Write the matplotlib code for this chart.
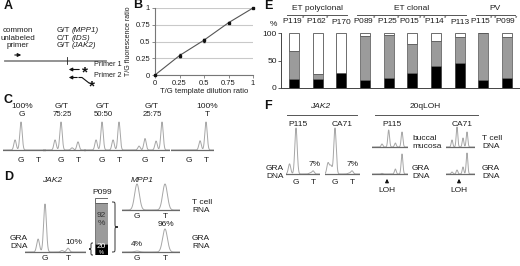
import numpy as np
import matplotlib
matplotlib.use('Agg')
import matplotlib.pyplot as plt
from matplotlib.path import Path
import matplotlib.patches as mpatches

plt.rcParams['font.family'] = ['Liberation Sans', 'DejaVu Sans']
plt.rcParams['mathtext.fontset'] = 'custom'
plt.rcParams['mathtext.rm'] = 'Liberation Sans'

# ---------------- data ----------------
# B: calibration curve
b_template = [0, 0.25, 0.5, 0.75, 1.0]
b_ratio = [0, 0.29, 0.52, 0.78, 1.0]
b_err = [0, 0.02, 0.02, 0.01, 0]
b_ticks = [0, 0.25, 0.5, 0.75, 1]
b_ticklabels = ['0', '0.25', '0.5', '0.75', '1']

# C: dilution chromatograms (relative peak heights)
c_top = ['100%', 'G/T', 'G/T', 'G/T', '100%']
c_sub = ['G', '75:25', '50:50', '25:75', 'T']
c_G = [1.0, 1.0, 1.0, 0.41, 0.0]
c_G_sh = [0.36, 0.36, 0.36, 0.14, 0.0]
c_T = [0.0, 0.29, 1.0, 1.0, 1.0]
c_T_sh = [0.0, 0.08, 0.36, 0.32, 0.33]

# D
d_jak2_heights = [0.27, 1.0, 0.03, 0.08]      # G shoulder, G, T shoulder, T
d_mpp1_tcell = [1.0, 1.0]                      # G, T
d_mpp1_gra = [0.04, 0.96]                      # G, T
d_bar_black = 20
d_bar_gray_top = 92

# E
e_samples = ['P119*', 'P162*', 'P170', 'P089*', 'P125*', 'P015**',
             'P114*', 'P113', 'P115**', 'P099*']
e_black = [17, 17, 28, 14, 18, 28, 40, 46, 14, 18]
e_gray_top = [67, 26, 28, 95, 97, 80, 86, 93, 100, 92]
e_groups = ['ET polyclonal', 'ET clonal', 'PV']

# F
f_jak2_p115 = [0.22, 0.0, 1.0, 0.02, 0.07]      # shoulders, G, T shoulder, T
f_jak2_ca71 = [0.24, 0.18, 1.0, 0.02, 0.07]
f_loh_pos = [0, 1, 2, 3]
f_p115_buccal = [0.15, 0.85, 0.2, 0.75]
f_p115_gra = [0.03, 0.0, 0.25, 1.0]
f_ca71_pos = [0, 1, 2.2, 3]
f_ca71_tcell = [0.35, 1.0, 0.45, 0.75]
f_ca71_gra = [0.1, 0.2, 0.35, 1.05]

# ---------------- figure ----------------
W, H = 520, 266
fig = plt.figure(figsize=(5.2, 2.66), dpi=100)
canvas = fig.add_axes([0, 0, 1, 1])
canvas.set_xlim(0, W)
canvas.set_ylim(H, 0)
canvas.axis('off')

TXT = '#1e1e1e'
PEAK = '#a6a6a6'
BASE = '#6a6a6a'


def px_axes(x0, y0, x1, y1):
    ax = fig.add_axes([x0 / W, 1 - y1 / H, (x1 - x0) / W, (y1 - y0) / H])
    ax.patch.set_alpha(0)
    return ax


def txt(x, y, s, size=6, ha='center', va='center', **kw):
    canvas.text(x, y, s, fontsize=size, color=TXT, ha=ha, va=va, **kw)


def chrom(x0, x1, base, xlim, pos, hts, sigma, peak_px, top_px=52):
    ax = px_axes(x0, base - top_px, x1, base + 2)
    xs = np.linspace(xlim[0], xlim[1], 800)
    ys = np.zeros_like(xs)
    for p, h in zip(pos, hts):
        ys += h * np.exp(-0.5 * ((xs - p) / sigma) ** 2)
    ax.plot(xs, ys, color=PEAK, lw=0.7)
    ax.plot(xlim, [0, 0], color=BASE, lw=0.9)
    ax.set_xlim(xlim)
    ax.set_ylim(-2.0 / peak_px, top_px / peak_px)
    ax.axis('off')
    return ax


def brace(x, y0, y1, w, direction=1):
    ym = (y0 + y1) / 2
    d = min(4, (y1 - y0) / 4)
    xm = x + direction * w / 2
    xt = x + direction * w
    verts = [(x, y0), (xm, y0), (xm, y0), (xm, y0 + d),
             (xm, ym - d),
             (xm, ym), (xm, ym), (xt, ym),
             (xm, ym), (xm, ym), (xm, ym + d),
             (xm, y1 - d),
             (xm, y1), (xm, y1), (x, y1)]
    codes = [Path.MOVETO, Path.CURVE4, Path.CURVE4, Path.CURVE4,
             Path.LINETO,
             Path.CURVE4, Path.CURVE4, Path.CURVE4,
             Path.CURVE4, Path.CURVE4, Path.CURVE4,
             Path.LINETO,
             Path.CURVE4, Path.CURVE4, Path.CURVE4]
    canvas.add_patch(mpatches.PathPatch(Path(verts, codes), fill=False,
                                        lw=0.7, edgecolor='#333'))


def panel_label(x, y, s):
    canvas.text(x, y, s, fontsize=9, fontweight='bold', color='#111',
                ha='left', va='center')


def star_label(s):
    base = s.rstrip('*')
    n = len(s) - len(base)
    return base + ('$^{' + '*' * n + '}$' if n else '')


# ---------------- Panel A ----------------
panel_label(4, 6, 'A')
for i, s in enumerate(['common', 'unlabeled', 'primer']):
    txt(18, 31 + i * 7.3, s, size=5.8)
canvas.annotate('', xy=(24, 55), xytext=(12, 55),
                arrowprops=dict(arrowstyle='-|>', lw=0.8, color='#111',
                                mutation_scale=5))
canvas.plot([5, 106], [61, 61], color='#8a8a8a', lw=1.3)
canvas.plot([67, 67], [57, 64], color='#222', lw=0.6)
for i, (a, g) in enumerate([('G/T', '(MPP1)'), ('C/T', '(IDS)'),
                            ('G/T', '(JAK2)')]):
    txt(57, 31 + i * 7.3, a, ha='left', size=5.8)
    txt(72, 31 + i * 7.3, g, ha='left', style='italic', size=5.8)
canvas.annotate('', xy=(66, 69.5), xytext=(82, 69.5),
                arrowprops=dict(arrowstyle='-|>', lw=0.8, color='#111',
                                mutation_scale=5))
canvas.text(85, 72, '*', fontsize=11, fontweight='bold', color='#111',
            ha='center', va='center')
txt(94, 65, 'Primer 1', size=5.2, ha='left')
canvas.annotate('', xy=(66, 77.5), xytext=(80, 77.5),
                arrowprops=dict(arrowstyle='-|>', lw=0.8, color='#111',
                                mutation_scale=5))
canvas.plot([79, 82, 89], [77.5, 77.5, 83], color='#111', lw=0.8)
canvas.text(92, 86, '*', fontsize=11, fontweight='bold', color='#111',
            ha='center', va='center')
txt(94, 75.5, 'Primer 2', size=5.2, ha='left')

# ---------------- Panel B ----------------
panel_label(133, 5, 'B')
axB = px_axes(155, 8, 253, 75)
axB.grid(axis='y', color='#c9c9c9', lw=0.8)
axB.set_axisbelow(True)
axB.plot(b_template, b_ratio, color='#555', lw=0.8, zorder=2)
axB.errorbar(b_template, b_ratio, yerr=b_err, fmt='s', ms=1.6,
             color='#111', elinewidth=0.6, capsize=1, zorder=3,
             clip_on=False)
axB.set_xlim(0, 1)
axB.set_ylim(0, 1)
axB.set_xticks(b_ticks)
axB.set_xticklabels(b_ticklabels)
axB.set_yticks(b_ticks)
axB.set_yticklabels(b_ticklabels)
for s in ['top', 'right']:
    axB.spines[s].set_visible(False)
for s in ['left', 'bottom']:
    axB.spines[s].set_color('#777')
    axB.spines[s].set_linewidth(0.8)
axB.tick_params(labelsize=5.5, length=2, width=0.6, color='#777', pad=1.5,
                labelcolor=TXT)
axB.set_xlabel('T/G template dilution ratio', fontsize=5.5, labelpad=1,
               color=TXT)
axB.set_ylabel('T/G fluorescence ratio', fontsize=5, labelpad=2.5, color=TXT)

# ---------------- Panel C ----------------
panel_label(4, 100, 'C')
c_gx = [21, 61, 102, 145, 189]
c_label_x = [22, 62, 103, 152, 207]
unit = 17.0
for i, gx in enumerate(c_gx):
    x0, x1 = gx - 18, gx + unit + 8
    xlim = ((x0 - gx) / unit, (x1 - gx) / unit)
    chrom(x0, x1, 150, xlim, [-0.35, 0, 0.65, 1.0],
          [c_G_sh[i], c_G[i], c_T_sh[i], c_T[i]], sigma=0.07,
          peak_px=28, top_px=36)
    txt(c_label_x[i], 106, c_top[i], size=6)
    txt(c_label_x[i], 114, c_sub[i], size=6 if i in (0, 4) else 5.6)
    txt(gx, 160, 'G', size=6)
    txt(gx + unit, 160, 'T', size=6)

# ---------------- Panel D ----------------
panel_label(4, 177, 'D')
txt(52, 181, 'JAK2', style='italic')
txt(142, 181, 'MPP1', style='italic')
# JAK2 GRA DNA
u = 23.0
chrom(25, 86, 252, ((25 - 45) / u, (86 - 45) / u), [-0.3, 0, 0.74, 1.0],
      d_jak2_heights, sigma=0.06, peak_px=48, top_px=56)
txt(10, 238, 'GRA', ha='left', size=6)
txt(10, 246, 'DNA', ha='left', size=6)
txt(74, 243, '10%', size=6)
txt(45, 259, 'G')
txt(68, 259, 'T')
# MPP1
u2 = 28.0
chrom(122, 180, 210, ((122 - 137) / u2, (180 - 137) / u2), [0, 1],
      d_mpp1_tcell, sigma=0.085, peak_px=26, top_px=32)
chrom(122, 180, 252, ((122 - 137) / u2, (180 - 137) / u2), [0, 1],
      d_mpp1_gra, sigma=0.085, peak_px=24, top_px=30)
txt(137, 217, 'G')
txt(165, 217, 'T')
txt(137, 259, 'G')
txt(165, 259, 'T')
txt(166, 225, '96%')
txt(137, 245, '4%')
txt(192, 203, 'T cell', ha='left')
txt(192, 211, 'RNA', ha='left')
txt(192, 238, 'GRA', ha='left')
txt(192, 246, 'RNA', ha='left')
# P099 bar
txt(102, 192, 'P099')
axD = px_axes(95, 198, 108, 255)
gb = d_bar_gray_top - d_bar_black
axD.bar([0], [d_bar_black], width=1, color='black', edgecolor='#444',
        lw=0.5)
axD.bar([0], [gb], bottom=[d_bar_black], width=1, color='#9b9b9b',
        edgecolor='#555', lw=0.5)
axD.bar([0], [100 - d_bar_gray_top], bottom=[d_bar_gray_top], width=1,
        color='white', edgecolor='#555', lw=0.6)
axD.set_xlim(-0.5, 0.5)
axD.set_ylim(0, 100)
axD.axis('off')
axD.text(0, 70, '%d' % d_bar_gray_top, fontsize=6, color='#333',
         ha='center', va='center')
axD.text(0, 56, '%', fontsize=6, color='#333', ha='center', va='center')
axD.text(0, 15, '%d' % d_bar_black, fontsize=6, color='white',
         ha='center', va='center')
axD.text(0, 4, '%', fontsize=4, color='white', ha='center', va='center')
brace(112, 202, 252, 6, direction=1)
brace(93, 243, 255, 4, direction=-1)

# ---------------- Panel E ----------------
panel_label(264, 6, 'E')
axE = px_axes(281, 33, 520, 88)
xe = np.arange(len(e_samples))
bw = 0.42
eb = np.array(e_black)
eg = np.array(e_gray_top)
axE.bar(xe, eb, width=bw, color='black', edgecolor='#333', lw=0.5)
axE.bar(xe, eg - eb, bottom=eb, width=bw, color='#9b9b9b',
        edgecolor='#555', lw=0.5)
axE.bar(xe, 100 - eg, bottom=eg, width=bw, color='white', edgecolor='#555',
        lw=0.6)
axE.set_xlim(-0.55, 9.55)
axE.set_ylim(0, 100)
axE.set_yticks([0, 50, 100])
axE.tick_params(axis='y', labelsize=6, length=2, width=0.6, pad=1,
                color='#444', labelcolor=TXT)
axE.xaxis.tick_top()
axE.set_xticks(xe)
axE.set_xticklabels([star_label(s) for s in e_samples], fontsize=6,
                    color=TXT)
axE.tick_params(axis='x', length=0, pad=5)
axE.spines['top'].set_visible(False)
axE.spines['right'].set_visible(False)
axE.spines['left'].set_color('#444')
axE.spines['bottom'].set_color('#444')
axE.spines['left'].set_linewidth(0.7)
axE.spines['bottom'].set_linewidth(0.7)
txt(273, 24, '%', size=6)
for name, (a, b) in zip(e_groups, [(287, 347), (357, 466), (476, 515)]):
    txt((a + b) / 2, 9, name, size=6)
    canvas.plot([a, b], [15, 15], color='#555', lw=0.7)

# ---------------- Panel F ----------------
panel_label(264, 106, 'F')
txt(320, 107, 'JAK2', style='italic')
canvas.plot([287, 357], [115, 115], color='#555', lw=0.7)
txt(425, 107, '20qLOH')
canvas.plot([375, 478], [115, 115], color='#555', lw=0.7)
for x, s in [(298, 'P115'), (342, 'CA71'), (392, 'P115'), (462, 'CA71')]:
    txt(x, 124, s, size=6)
uj = 17.0
chrom(286, 320, 174, ((286 - 296) / uj, (320 - 296) / uj),
      [-0.38, -0.24, 0, 0.82, 1.0], f_jak2_p115, sigma=0.07, peak_px=46,
      top_px=50)
chrom(325, 360, 174, ((325 - 335) / uj, (360 - 335) / uj),
      [-0.41, -0.24, 0, 0.82, 1.0], f_jak2_ca71, sigma=0.07, peak_px=46,
      top_px=50)
txt(266, 169, 'GRA', ha='left')
txt(266, 177, 'DNA', ha='left')
txt(315, 165, '7%')
txt(353, 165, '7%')
txt(296, 183, 'G')
txt(313, 183, 'T')
txt(335, 183, 'G')
txt(352, 183, 'T')
ul = 6.67
for base, hts in [(147, f_p115_buccal), (174, f_p115_gra)]:
    chrom(372, 408, base, ((372 - 382) / ul, (408 - 382) / ul), f_loh_pos,
          hts, sigma=0.13, peak_px=20, top_px=24)
uc = 5.0
for base, hts in [(147, f_ca71_tcell), (174, f_ca71_gra)]:
    chrom(446, 475, base, ((446 - 452) / uc, (475 - 452) / uc), f_ca71_pos,
          hts, sigma=0.16, peak_px=20, top_px=24)
txt(412, 138, 'buccal', ha='left')
txt(412, 147, 'mucosa', ha='left')
txt(412, 169, 'GRA', ha='left')
txt(412, 177, 'DNA', ha='left')
txt(482, 138, 'T cell', ha='left')
txt(482, 147, 'DNA', ha='left')
txt(482, 169, 'GRA', ha='left')
txt(482, 177, 'DNA', ha='left')
for x in (387, 459):
    canvas.annotate('', xy=(x, 176), xytext=(x, 185),
                    arrowprops=dict(arrowstyle='-|>', lw=0.8, color='#111',
                                    mutation_scale=5))
    txt(x, 191, 'LOH')

fig.savefig('out.png', dpi=100)
